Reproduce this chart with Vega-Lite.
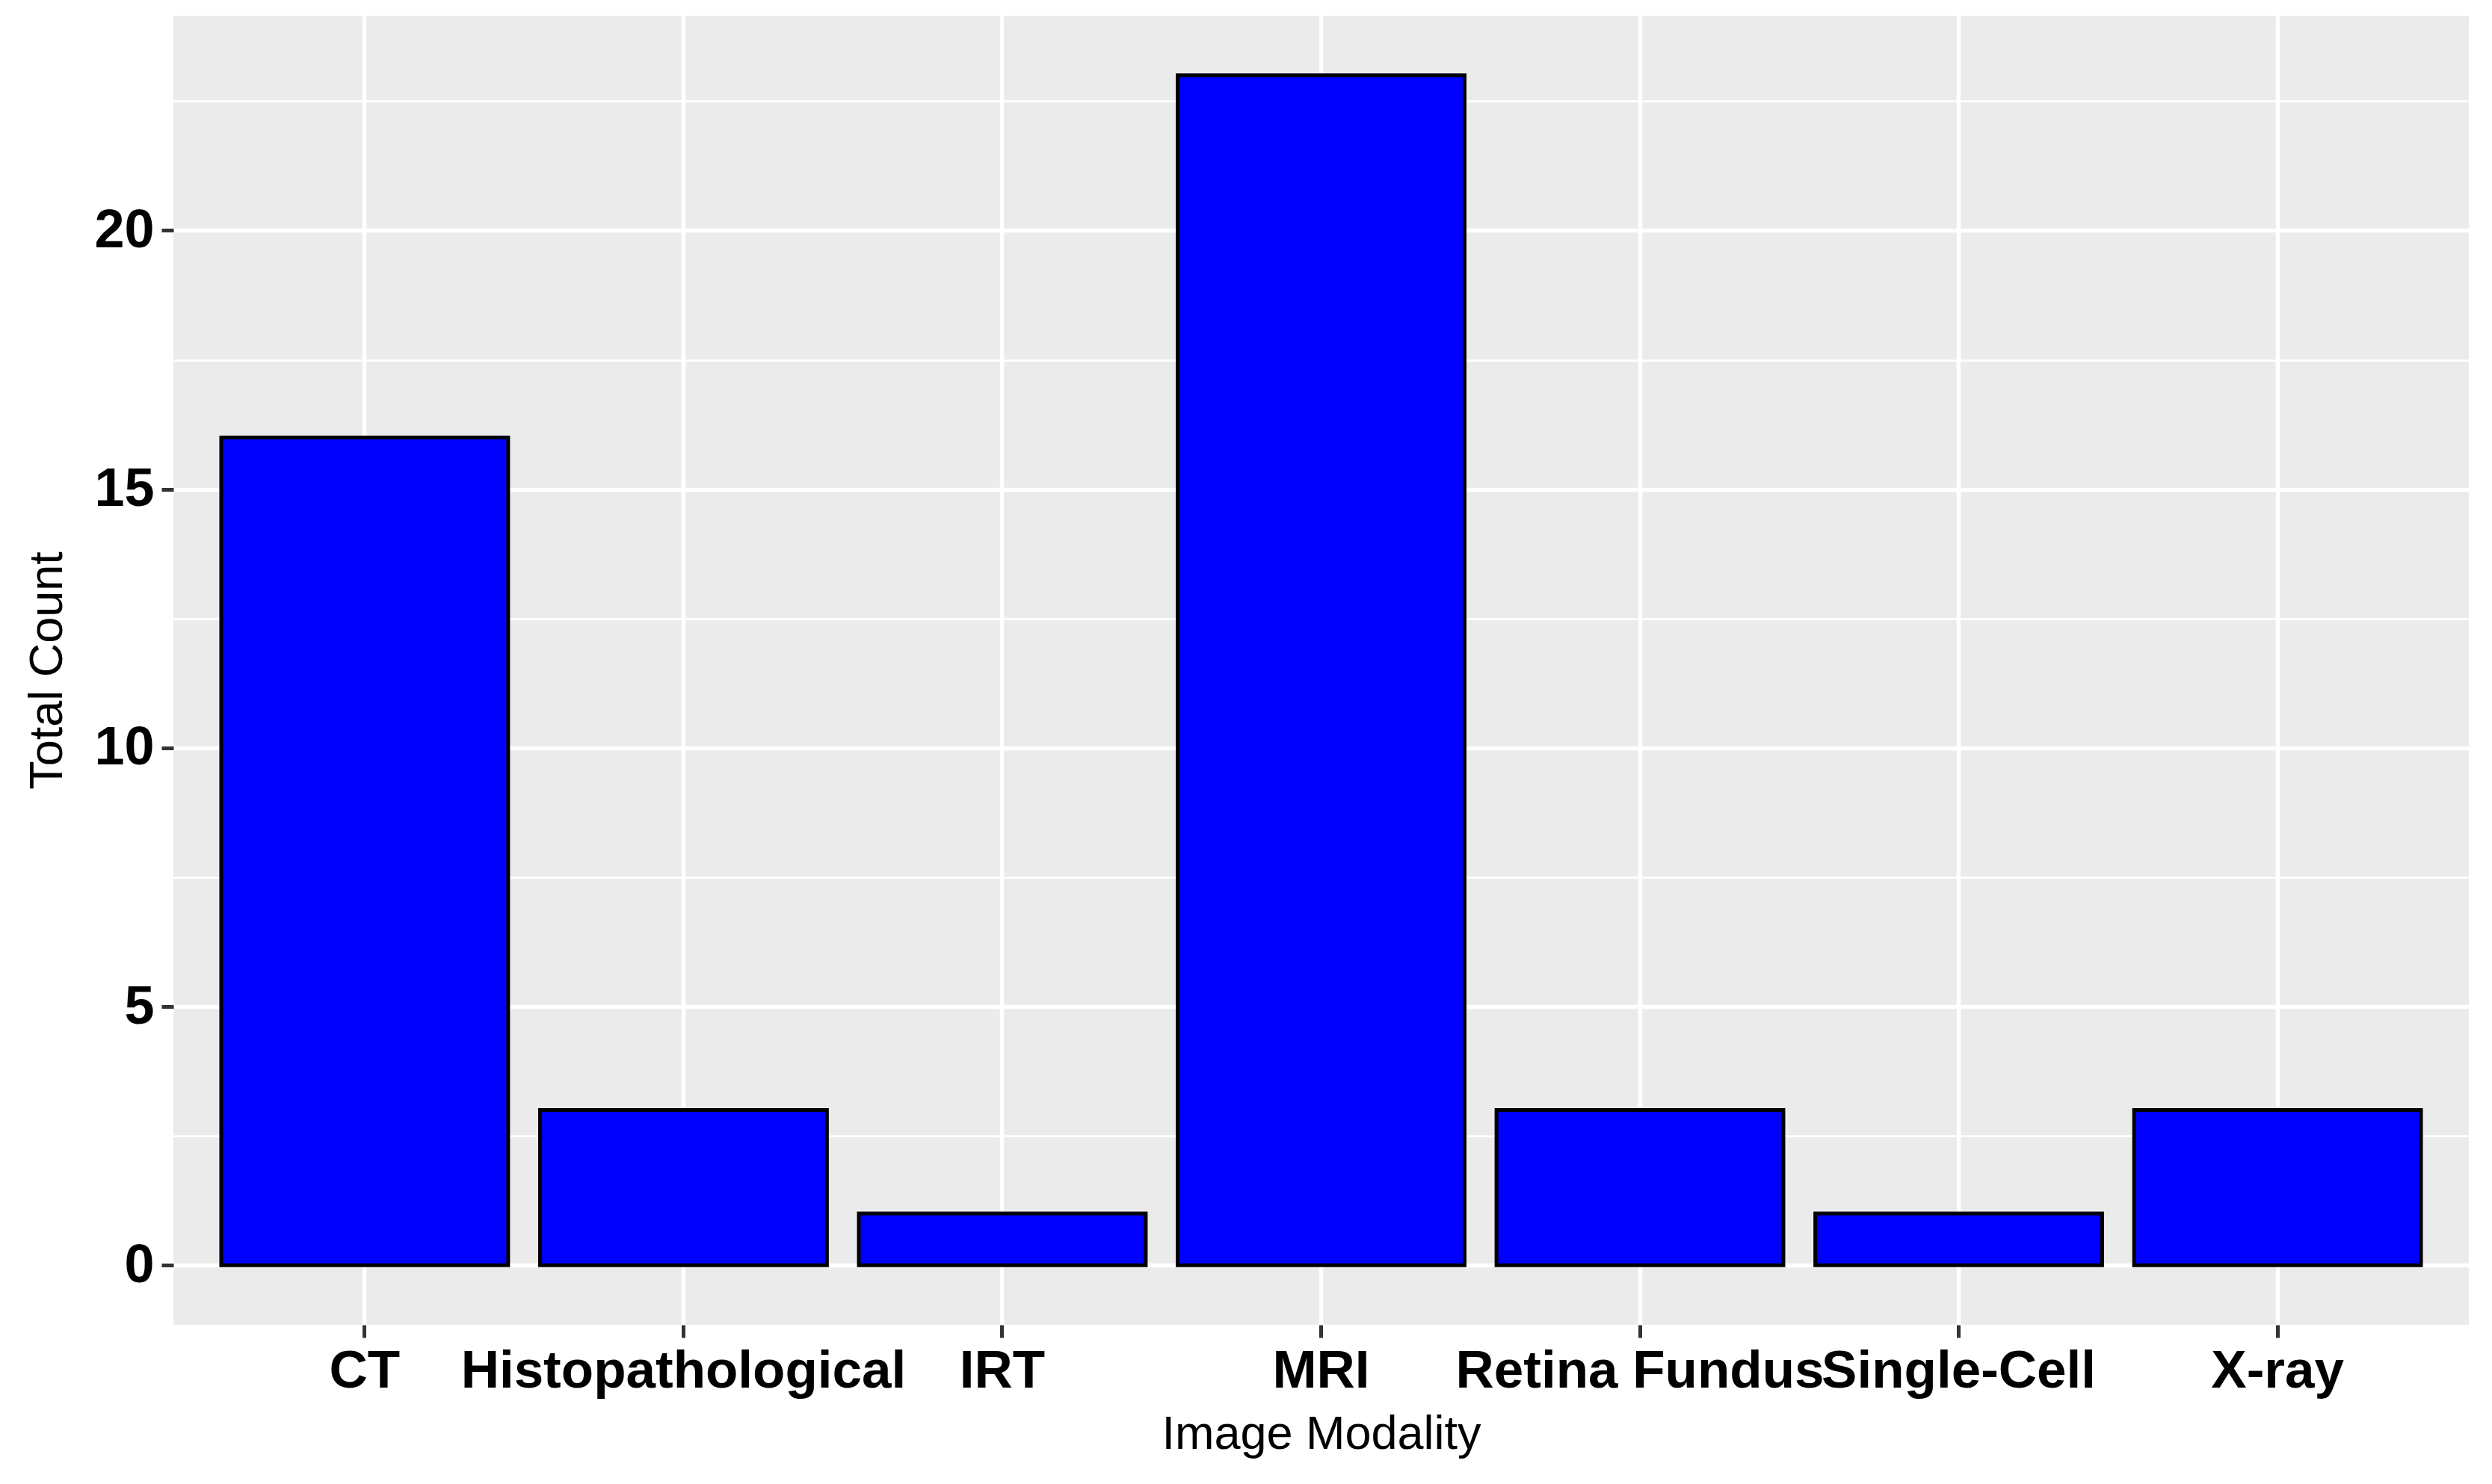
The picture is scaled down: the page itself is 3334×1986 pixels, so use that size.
{
  "$schema": "https://vega.github.io/schema/vega-lite/v6.json",
  "width": 3071,
  "height": 1752,
  "autosize": {"type": "none"},
  "padding": {"left": 232, "top": 21, "right": 31, "bottom": 213},
  "background": "white",
  "data": {
    "values": [
      {"modality": "CT", "count": 16},
      {"modality": "Histopathological", "count": 3},
      {"modality": "IRT", "count": 1},
      {"modality": "MRI", "count": 23},
      {"modality": "Retina Fundus", "count": 3},
      {"modality": "Single-Cell", "count": 1},
      {"modality": "X-ray", "count": 3}
    ]
  },
  "mark": {"type": "bar", "fill": "#0000FF", "stroke": "#000000", "strokeWidth": 5},
  "encoding": {
    "x": {
      "field": "modality",
      "type": "nominal",
      "sort": null,
      "scale": {"paddingInner": 0.1, "paddingOuter": 0.15},
      "axis": {
        "title": "Image Modality",
        "labelAngle": 0,
        "bandPosition": 0.5,
        "labelOverlap": false,
        "labelBound": false,
        "labelLimit": 2000,
        "labelFont": "Liberation Sans",
        "labelFontWeight": "bold",
        "labelFontSize": 71,
        "labelColor": "#000000",
        "labelPadding": 10,
        "tickSize": 17,
        "tickWidth": 5,
        "tickColor": "#333333",
        "domain": false,
        "grid": true,
        "gridColor": "#FFFFFF",
        "gridWidth": 5.5,
        "titleFont": "Liberation Sans",
        "titleFontWeight": "normal",
        "titleFontSize": 63,
        "titleColor": "#000000",
        "titlePadding": 18
      }
    },
    "y": {
      "field": "count",
      "type": "quantitative",
      "scale": {"domain": [-1.15, 24.15], "nice": false, "zero": false},
      "axis": {
        "title": "Total Count",
        "values": [0, 2.5, 5, 7.5, 10, 12.5, 15, 17.5, 20, 22.5],
        "labelExpr": "datum.value % 5 === 0 ? datum.label : ''",
        "labelFont": "Liberation Sans",
        "labelFontWeight": "bold",
        "labelFontSize": 72,
        "labelColor": "#000000",
        "labelPadding": 10,
        "tickSize": 16,
        "tickWidth": 5,
        "tickColor": "#333333",
        "tickOpacity": {"condition": {"test": "datum.value % 5 !== 0", "value": 0}, "value": 1},
        "domain": false,
        "grid": true,
        "gridColor": "#FFFFFF",
        "gridWidth": {"condition": {"test": "datum.value % 5 !== 0", "value": 2.75}, "value": 5.5},
        "titleFont": "Liberation Sans",
        "titleFontWeight": "normal",
        "titleFontSize": 63,
        "titleColor": "#000000",
        "titlePadding": 30
      }
    }
  },
  "config": {
    "view": {"fill": "#EBEBEB", "stroke": null}
  }
}
